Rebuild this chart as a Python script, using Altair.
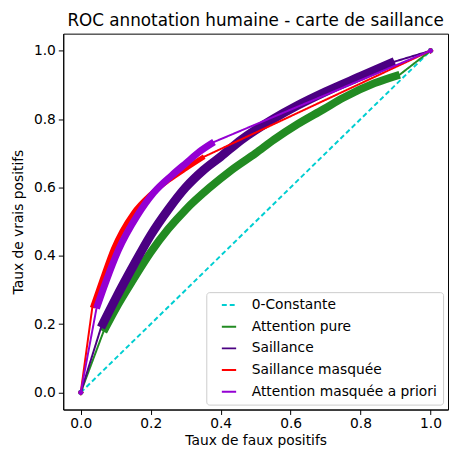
import altair as alt
import pandas as pd

series_names = ["0-Constante", "Attention pure", "Saillance", "Saillance masquée", "Attention masquée a priori"]
series_colors = ["#00CED1", "#228B22", "#4B0082", "#FF0000", "#9400D3"]
series_dash = [[5, 3], [1, 0], [1, 0], [1, 0], [1, 0]]
series_marker = ["dot", "dot", "plus", "plus", "dot"]
series_band = [0, 8, 9, 5, 7]

const_fpr = [0.0, 1.0]
const_tpr = [0.0, 1.0]

att_fpr = [0.0, 0.065, 0.1, 0.15, 0.2, 0.25, 0.3, 0.367, 0.43, 0.5, 0.553, 0.62, 0.693, 0.75, 0.84, 0.912, 1.0]
att_tpr = [0.0, 0.178, 0.245, 0.33, 0.41, 0.478, 0.535, 0.598, 0.65, 0.7, 0.74, 0.785, 0.828, 0.862, 0.905, 0.93, 1.0]

sal_fpr = [0.0, 0.058, 0.1, 0.15, 0.2, 0.25, 0.3, 0.35, 0.4, 0.46, 0.55, 0.62, 0.7, 0.8, 0.897, 1.0]
sal_tpr = [0.0, 0.19, 0.275, 0.37, 0.46, 0.535, 0.6, 0.65, 0.69, 0.74, 0.8, 0.84, 0.88, 0.925, 0.968, 1.0]

salm_fpr = [0.0, 0.033, 0.061, 0.093, 0.15, 0.2, 0.25, 0.3, 0.353, 1.0]
salm_tpr = [0.0, 0.248, 0.33, 0.42, 0.525, 0.58, 0.62, 0.655, 0.69, 1.0]

attm_fpr = [0.0, 0.045, 0.073, 0.107, 0.162, 0.209, 0.26, 0.302, 0.34, 0.381, 1.0]
attm_tpr = [0.0, 0.246, 0.327, 0.415, 0.518, 0.585, 0.635, 0.672, 0.705, 0.733, 1.0]

tick_values = [0.0, 0.2, 0.4, 0.6, 0.8, 1.0]

all_fpr = [const_fpr, att_fpr, sal_fpr, salm_fpr, attm_fpr]
all_tpr = [const_tpr, att_tpr, sal_tpr, salm_tpr, attm_tpr]

FONT = "DejaVu Sans"

xscale = alt.Scale(domain=[-0.05, 1.05], nice=False, zero=False)
yscale = alt.Scale(domain=[-0.05, 1.05], nice=False, zero=False)
xaxis = alt.Axis(values=tick_values, format=".1f", title="Taux de faux positifs", grid=False,
                 tickSize=5, labelPadding=2, titlePadding=3)
yaxis = alt.Axis(values=tick_values, format=".1f", title="Taux de vrais positifs", grid=False,
                 tickSize=5, labelPadding=3, titlePadding=8)

legend = alt.Legend(title=None, orient="bottom-right", offset=5, fillColor="white",
                    strokeColor="#cccccc", cornerRadius=3, padding=6,
                    labelFontSize=14, labelFont=FONT, labelColor="black", labelLimit=400,
                    symbolType="M-1.45,0H1.45", symbolSize=100, symbolStrokeWidth=2,
                    symbolOffset=10, rowPadding=8, labelOffset=16)

color_enc = alt.Color("serie:N", scale=alt.Scale(domain=series_names, range=series_colors), legend=legend)
dash_enc = alt.StrokeDash("serie:N", scale=alt.Scale(domain=series_names, range=series_dash), legend=legend)

plus_path = "M-1,0H1M0,-1V1"

layers = []
for i, name in enumerate(series_names):
    fpr = all_fpr[i]
    tpr = all_tpr[i]
    df = pd.DataFrame({"serie": name, "fpr": fpr, "tpr": tpr, "k": list(range(len(fpr)))})
    layers.append(
        alt.Chart(df).mark_line(strokeWidth=2, strokeCap="butt").encode(
            x=alt.X("fpr:Q", scale=xscale, axis=xaxis),
            y=alt.Y("tpr:Q", scale=yscale, axis=yaxis),
            order="k:Q",
            color=color_enc,
            strokeDash=dash_enc,
        )
    )
    if series_band[i] > 0:
        dense = df.iloc[1:-1]
        layers.append(
            alt.Chart(dense).mark_line(strokeWidth=series_band[i], strokeCap="butt", interpolate="monotone",
                                       strokeJoin="round", color=series_colors[i]).encode(
                x=alt.X("fpr:Q", scale=xscale),
                y=alt.Y("tpr:Q", scale=yscale),
                order="k:Q",
            )
        )
    ends = df.iloc[[0, -1]]
    if series_marker[i] == "dot":
        mk = alt.Chart(ends).mark_point(shape="circle", filled=True, size=25, opacity=1,
                                        color=series_colors[i])
    else:
        mk = alt.Chart(ends).mark_point(shape=plus_path, filled=False, size=30, strokeWidth=1.5,
                                        opacity=1, color=series_colors[i])
    layers.append(mk.encode(x=alt.X("fpr:Q", scale=xscale), y=alt.Y("tpr:Q", scale=yscale)))

chart = alt.layer(*layers).properties(
    width=390,
    height=381,
    title=alt.Title("ROC annotation humaine - carte de saillance", fontSize=17, fontWeight="normal",
                    font=FONT, color="black", offset=4),
    autosize=alt.AutoSizeParams(type="none"),
    padding={"left": 56, "top": 23, "right": 1, "bottom": 37},
).configure_view(stroke="black", strokeWidth=1).configure_axis(
    labelFont=FONT, titleFont=FONT, labelFontSize=14, titleFontSize=14,
    labelColor="black", titleColor="black", tickColor="black", domainColor="black",
    titleFontWeight="normal",
)

chart.save("out.html", embed_options={"renderer": "svg", "actions": False})
